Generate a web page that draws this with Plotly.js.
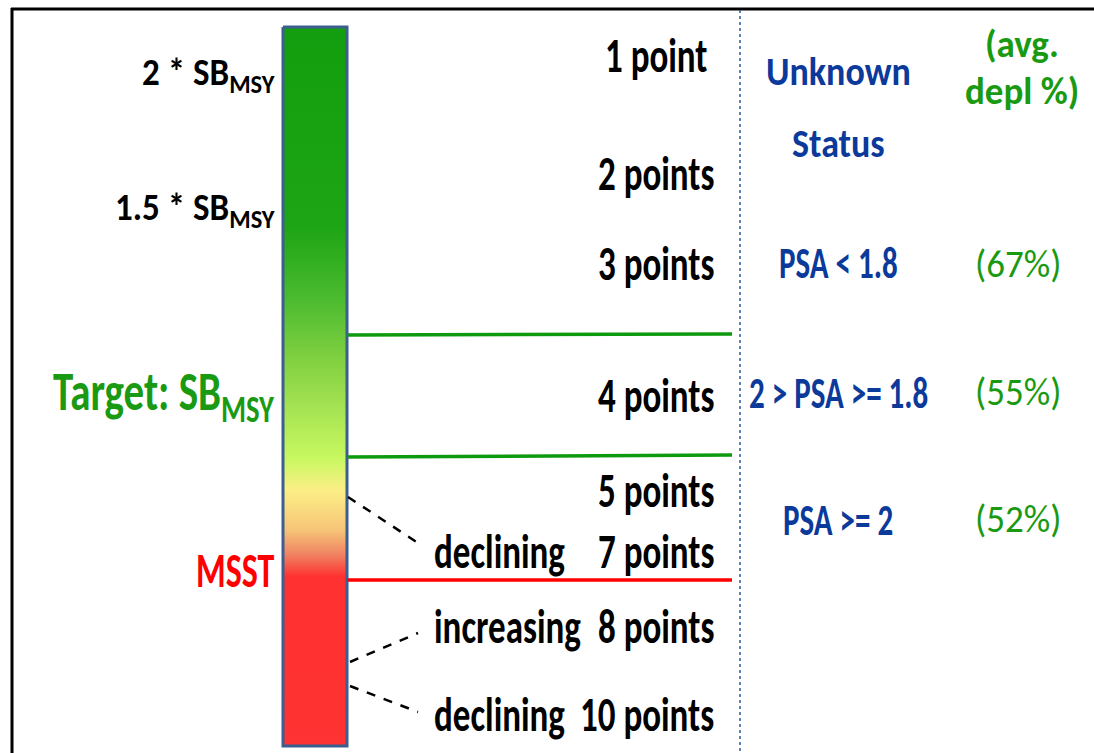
<!DOCTYPE html>
<html>
<head>
<meta charset="utf-8">
<script src="https://cdn.plot.ly/plotly-3.0.1.min.js"></script>
<style>html,body{margin:0;padding:0;background:#fff;}#chart{width:1094px;height:753px;}</style>
</head>
<body>
<div id="chart"></div>
<script>
// ---- content (data) ----
const levelLabels = ['2 * SB<sub>MSY</sub>', '1.5 * SB<sub>MSY</sub>', 'Target: SB<sub>MSY</sub>', 'MSST'];
const levelColors = ['#000000', '#000000', '#1a9a12', '#ff0000'];
const pointLabels = ['1 point', '2 points', '3 points', '4 points', '5 points', '7 points', '8 points', '10 points'];
const trendLabels = ['declining', 'increasing', 'declining'];
const statusHeader = ['Unknown', 'Status'];
const deplHeader = ['(avg.', 'depl %)'];
const psaLabels = ['PSA < 1.8', '2 > PSA >= 1.8', 'PSA >= 2'];
const deplValues = [67, 55, 52];
const gradientStops = [0, 0.28, 0.38, 0.46, 0.52, 0.60, 0.645, 0.70, 0.735, 0.765, 1];
const gradientColors = ['#129e0e', '#1ea515', '#4cbb30', '#7fd040', '#a0e050', '#c8f860', '#fcee86', '#f6c478', '#f08060', '#ff3030', '#ff3333'];

// ---- layout positions / styles (pixels) ----
const bar = {x0: 283, x1: 347, y0: 27, y1: 746};
const levelY = [74, 209, 395, 570];
const levelSize = [35, 35, 41, 34];
const levelStretch = [1.1, 1.1, 1.35, 1.45];
const pointY = [55, 173, 263, 395, 490, 551, 626, 714];
const trendY = [551, 626, 714];
const statusY = [71, 143];
const deplHeadY = [44, 91];
const psaY = [263, 393, 520];
const deplY = [264, 392, 519];
const bandLines = [{y0: 335, y1: 334, c: '#0e9a0e'}, {y0: 457, y1: 455, c: '#0e9a0e'}, {y0: 580, y1: 580, c: '#ff0000'}];
const dashLines = [[348, 497, 418, 543], [350, 662, 418, 633], [350, 686, 418, 712]];

const FONT = 'Carlito, "Roboto Condensed", sans-serif';
const BLUE = '#0b3a9a';
const GREEN = '#1a9a12';

const colorscale = gradientStops.map((s, i) => [s, gradientColors[i]]);

const traces = [{
  type: 'scatter', mode: 'lines',
  x: [bar.x0, bar.x1, bar.x1, bar.x0, bar.x0],
  y: [bar.y0, bar.y0, bar.y1, bar.y1, bar.y0],
  fill: 'toself',
  fillgradient: {type: 'vertical', colorscale: colorscale, start: bar.y0, stop: bar.y1},
  line: {color: '#3d5f8f', width: 3},
  hoverinfo: 'skip', showlegend: false
}];

const annotations = [];
const stretch = [];
levelLabels.forEach((t, i) => { stretch.push(levelStretch[i]); annotations.push({
  x: 277, y: levelY[i], xref: 'x', yref: 'y', text: t, showarrow: false,
  xanchor: 'right', yanchor: 'middle',
  font: {family: FONT, size: levelSize[i], color: levelColors[i], weight: 'bold'}
}); });
pointLabels.forEach((t, i) => { stretch.push(1.38); annotations.push({
  x: i === 0 ? 603 : 716, y: pointY[i], xref: 'x', yref: 'y', text: t, showarrow: false,
  xanchor: i === 0 ? 'left' : 'right', yanchor: 'middle',
  font: {family: FONT, size: 35, color: '#000', weight: 'bold'}
}); });
trendLabels.forEach((t, i) => { stretch.push(1.38); annotations.push({
  x: 432, y: trendY[i], xref: 'x', yref: 'y', text: t, showarrow: false,
  xanchor: 'left', yanchor: 'middle',
  font: {family: FONT, size: 35, color: '#000', weight: 'bold'}
}); });
statusHeader.forEach((t, i) => { stretch.push(1.14); annotations.push({
  x: 838, y: statusY[i], xref: 'x', yref: 'y', text: t, showarrow: false,
  xanchor: 'center', yanchor: 'middle',
  font: {family: FONT, size: 36, color: BLUE, weight: 'bold'}
}); });
deplHeader.forEach((t, i) => { stretch.push(1.02); annotations.push({
  x: 1022, y: deplHeadY[i], xref: 'x', yref: 'y', text: t, showarrow: false,
  xanchor: 'center', yanchor: 'middle',
  font: {family: FONT, size: 37, color: GREEN, weight: 'bold'}
}); });
psaLabels.forEach((t, i) => { stretch.push(1.4); annotations.push({
  x: 838, y: psaY[i], xref: 'x', yref: 'y', text: t, showarrow: false,
  xanchor: 'center', yanchor: 'middle',
  font: {family: FONT, size: 31, color: BLUE, weight: 'bold'}
}); });
deplValues.forEach((v, i) => { stretch.push(1.04); annotations.push({
  x: 1018, y: deplY[i], xref: 'x', yref: 'y', text: '(' + v + '%)', showarrow: false,
  xanchor: 'center', yanchor: 'middle',
  font: {family: FONT, size: 37, color: GREEN}
}); });

const shapes = [
  {type: 'line', xref: 'x', yref: 'y', x0: 12, x1: 12, y0: 8, y1: 760, line: {color: '#000', width: 3}},
  {type: 'line', xref: 'x', yref: 'y', x0: 11, x1: 1100, y0: 9, y1: 9, line: {color: '#000', width: 3}},
  {type: 'line', xref: 'x', yref: 'y', x0: 740, x1: 740, y0: 10, y1: 760, line: {color: '#2b55a8', width: 1.5, dash: 'dot'}}
];
bandLines.forEach(b => shapes.push({type: 'line', xref: 'x', yref: 'y', x0: 347, x1: 732, y0: b.y0, y1: b.y1, line: {color: b.c, width: 3.5}}));
dashLines.forEach(d => shapes.push({type: 'line', xref: 'x', yref: 'y', x0: d[0], y0: d[1], x1: d[2], y1: d[3], line: {color: '#000', width: 2.5, dash: 'dash'}}));

const layout = {
  width: 1094, height: 753,
  margin: {l: 0, r: 0, t: 0, b: 0},
  paper_bgcolor: '#fff', plot_bgcolor: '#fff',
  xaxis: {range: [0, 1094], visible: false, fixedrange: true},
  yaxis: {range: [753, 0], visible: false, fixedrange: true},
  showlegend: false,
  shapes: shapes,
  annotations: annotations
};
Plotly.newPlot('chart', traces, layout, {displayModeBar: false, staticPlot: true}).then(() => {
  // the reference's lettering is drawn vertically elongated; reproduce that per label
  document.querySelectorAll('#chart .annotation').forEach(g => {
    const idx = +g.getAttribute('data-index');
    const s = stretch[idx];
    const txt = g.querySelector('text.annotation-text');
    if (!txt || !s) return;
    const bb = txt.getBBox();
    const cy = bb.y + bb.height / 2;
    const prev = txt.getAttribute('transform') || '';
    txt.setAttribute('transform', prev + ' translate(0 ' + cy + ') scale(1 ' + s + ') translate(0 ' + (-cy) + ')');
  });
});
</script>
</body>
</html>
